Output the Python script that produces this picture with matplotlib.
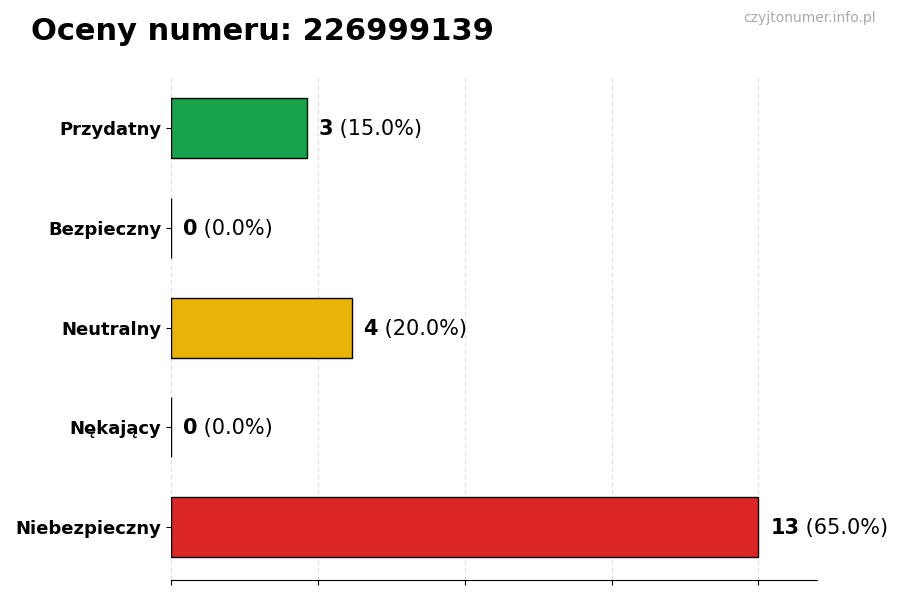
import matplotlib
matplotlib.use("Agg")
import matplotlib.pyplot as plt
import numpy as np

# data
categories = ["Przydatny", "Bezpieczny", "Neutralny", "Nękający", "Niebezpieczny"]
counts = [3, 0, 4, 0, 13]
colors = ["#16a34a", "#16a34a", "#eab308", "#dc2626", "#dc2626"]
number = "226999139"

total = sum(counts)
ypos = np.arange(len(categories))

fig = plt.figure(figsize=(9, 6), dpi=100)
ax = fig.add_axes([0.19, 0.033, 0.718, 0.842])

ax.barh(ypos, counts, height=0.6, color=colors, edgecolor="black", linewidth=1)
ax.invert_yaxis()

vmax = max(counts)
ax.set_xlim(0, vmax * 1.1)
ax.set_xticks(np.linspace(0, vmax, 5))
ax.set_xticklabels([])
ax.grid(axis="x", linestyle=(0, (4, 3)), color="#dddddd", linewidth=0.8)
ax.set_axisbelow(True)

ax.set_yticks(ypos)
ax.set_yticklabels(categories, fontsize=13, fontweight="bold")

for s in ["top", "right", "left"]:
    ax.spines[s].set_visible(False)

# value labels: bold count + normal percentage
for y, c in zip(ypos, counts):
    pct = 100.0 * c / total
    t = ax.annotate(str(c), (c, y), xytext=(8.5, -0.7), textcoords="offset points",
                    va="center", ha="left", fontsize=15, fontweight="bold")
    ax.annotate(" (%.1f%%)" % pct, xycoords=t, xy=(1, 0.5), va="center",
                ha="left", fontsize=15)

fig.text(0.034, 0.948, "Oceny numeru: " + number, fontsize=22, fontweight="bold",
         va="center", ha="left")
fig.text(0.973, 0.970, "czyjtonumer.info.pl", fontsize=10, color="#aaaaaa",
         va="center", ha="right")

fig.savefig("out.png", dpi=100)
